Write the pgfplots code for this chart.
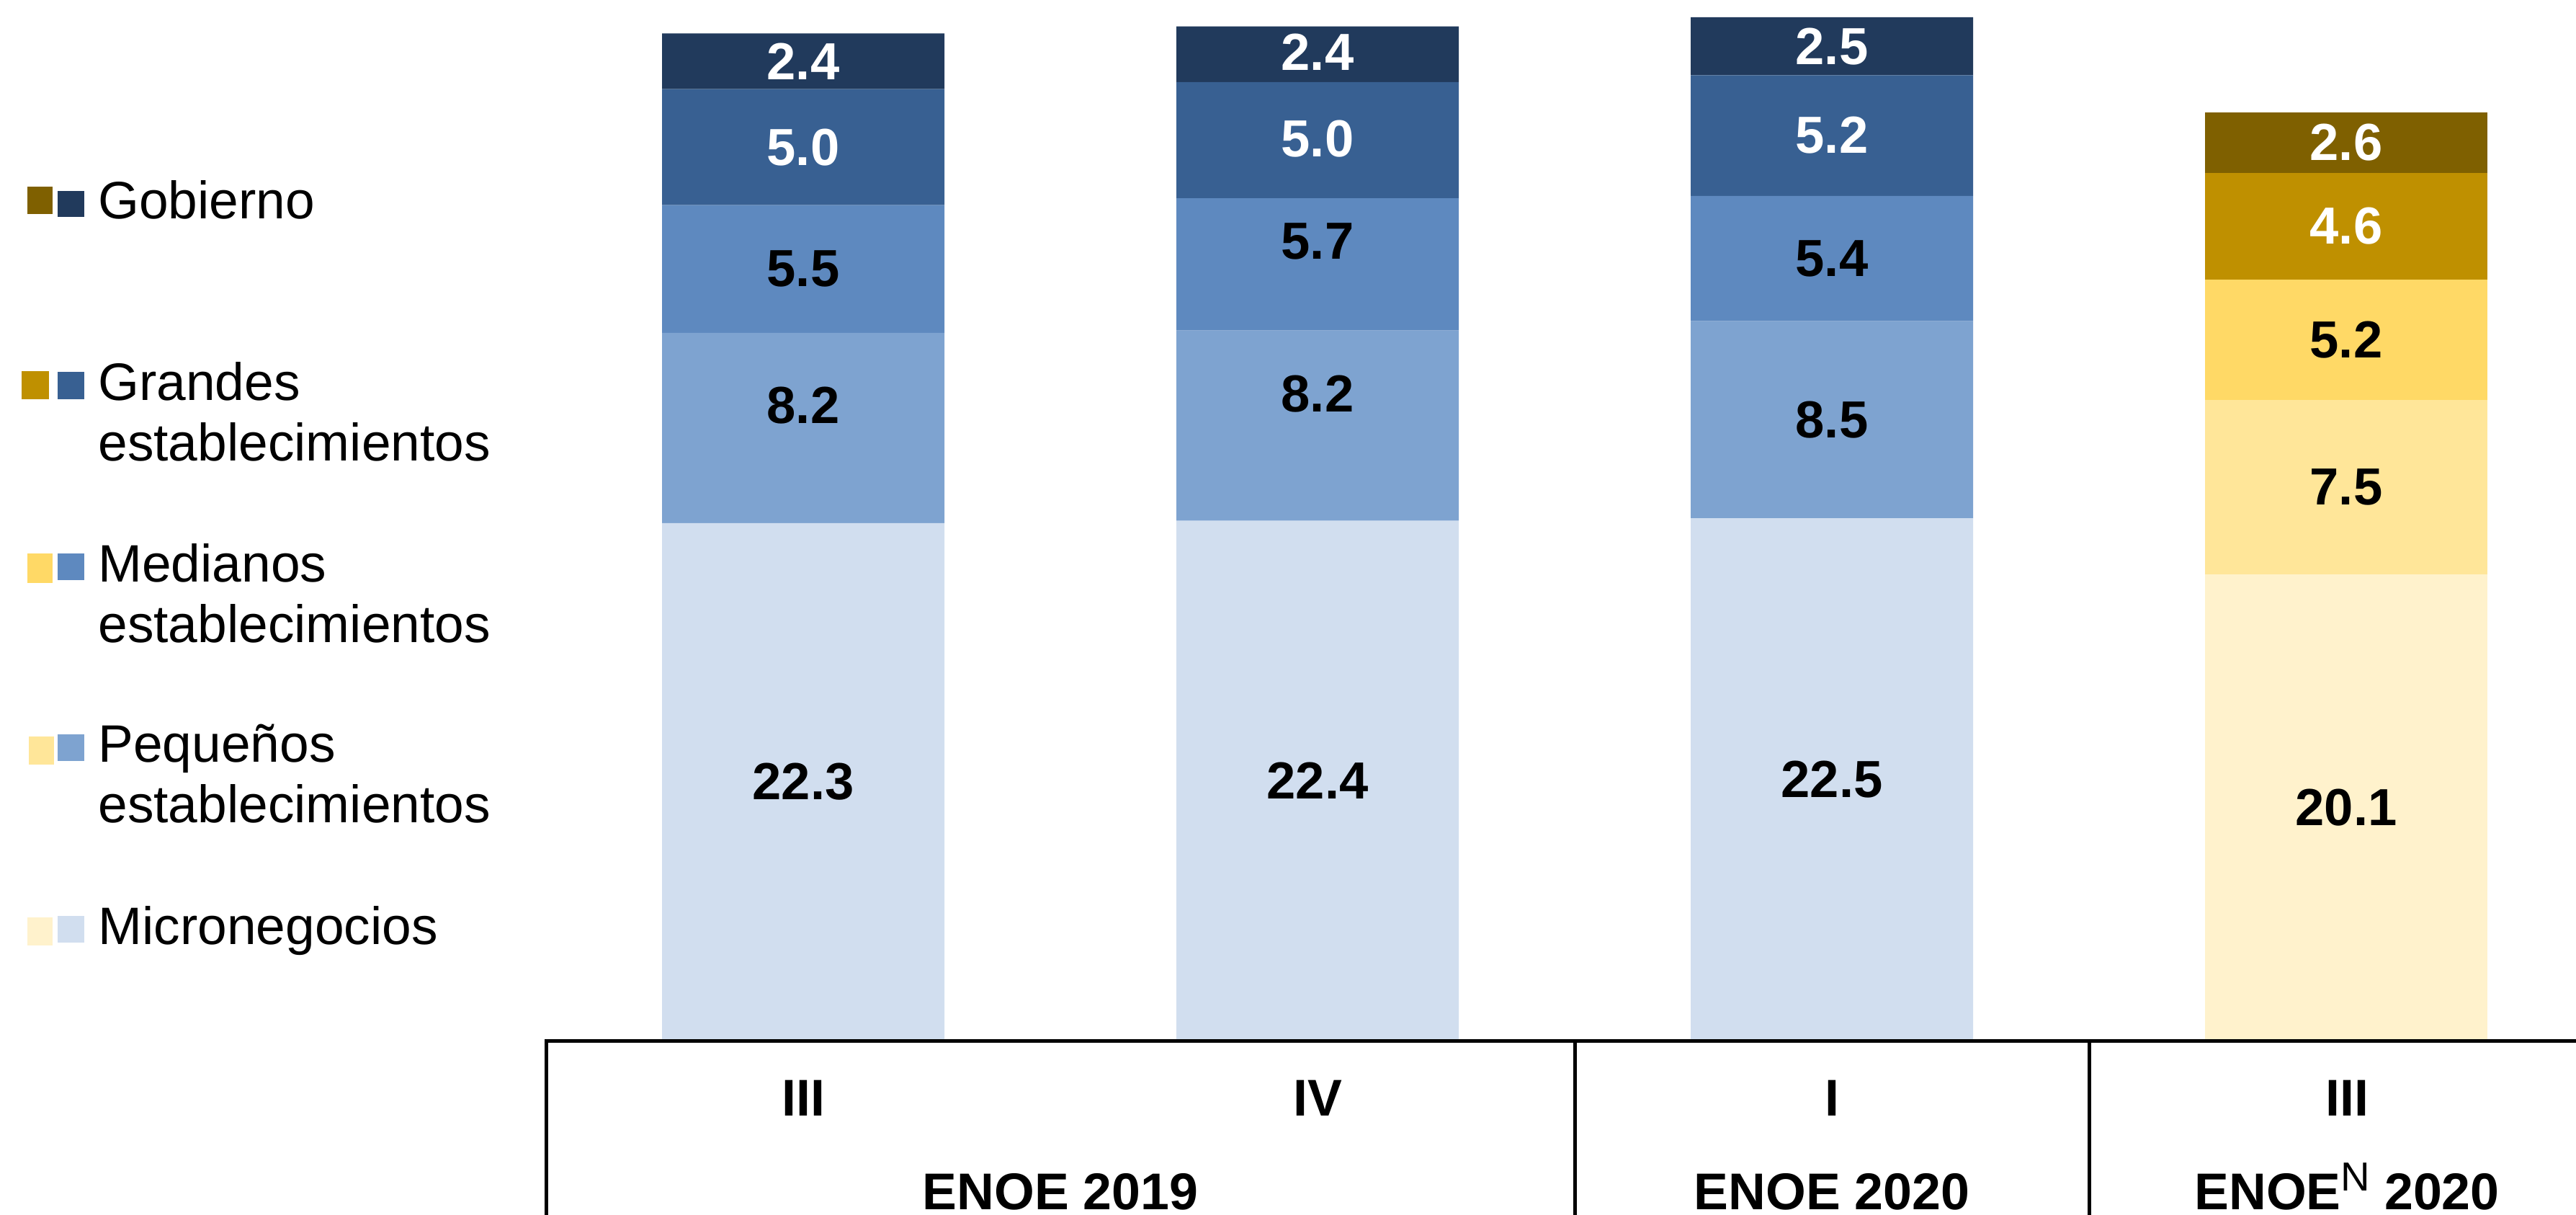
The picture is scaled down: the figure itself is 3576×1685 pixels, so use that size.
\documentclass[border=0pt]{standalone}
\usepackage{fontspec}
\setmainfont{Liberation Sans}
\usepackage{pgfplots}
\usepackage{pgfplotstable}
\pgfplotsset{compat=1.18}

\definecolor{bGob}{HTML}{213A5C}
\definecolor{bGra}{HTML}{386092}
\definecolor{bMed}{HTML}{5E89BF}
\definecolor{bPeq}{HTML}{7EA3D0}
\definecolor{bMic}{HTML}{D1DEEF}
\definecolor{gGob}{HTML}{7F6000}
\definecolor{gGra}{HTML}{BF9000}
\definecolor{gMed}{HTML}{FFD966}
\definecolor{gPeq}{HTML}{FFE699}
\definecolor{gMic}{HTML}{FFF2CC}

\pgfplotstableread{
x micro peq med gran gob
0 22.3 8.2 5.5 5.0 2.4
1 22.4 8.2 5.7 5.0 2.4
2 22.5 8.5 5.4 5.2 2.5
3 0 0 0 0 0
}\bluedata
\pgfplotstableread{
x micro peq med gran gob
0 0 0 0 0 0
1 0 0 0 0 0
2 0 0 0 0 0
3 20.1 7.5 5.2 4.6 2.6
}\golddata
\pgfplotstableread{
x y lab
0 42.2 2.4
0 38.5 5.0
1 42.6 2.4
1 38.85 5.0
2 42.85 2.5
2 39.0 5.2
3 38.7 2.6
3 35.1 4.6
}\whitelabs
\pgfplotstableread{
x y lab
0 33.25 5.5
0 27.36 8.2
0 11.15 22.3
1 34.44 5.7
1 27.86 8.2
1 11.2 22.4
2 33.7 5.4
2 26.75 8.5
2 11.25 22.5
3 30.2 5.2
3 23.85 7.5
3 10.05 20.1
}\blacklabs

\pgfplotsset{
  base/.style={
    scale only axis, width=140.9mm, height=72.2mm,
    at={(37.9mm,-72.2mm)}, anchor=south west,
    xmin=-0.5, xmax=3.447, ymin=0, ymax=44.84,
    hide axis, clip=false,
  },
}

\begin{document}
\fontsize{10.2}{12}\selectfont
\begin{tikzpicture}[x=0.05mm,y=-0.05mm]
\useasboundingbox (0,0) rectangle (3576,1685);

% bars
\begin{axis}[base, ybar stacked, bar width=0.549]
\addplot[fill=bMic, draw=none] table[x=x,y=micro] {\bluedata};
\addplot[fill=gMic, draw=none] table[x=x,y=micro] {\golddata};
\addplot[fill=bPeq, draw=none] table[x=x,y=peq] {\bluedata};
\addplot[fill=gPeq, draw=none] table[x=x,y=peq] {\golddata};
\addplot[fill=bMed, draw=none] table[x=x,y=med] {\bluedata};
\addplot[fill=gMed, draw=none] table[x=x,y=med] {\golddata};
\addplot[fill=bGra, draw=none] table[x=x,y=gran] {\bluedata};
\addplot[fill=gGra, draw=none] table[x=x,y=gran] {\golddata};
\addplot[fill=bGob, draw=none] table[x=x,y=gob] {\bluedata};
\addplot[fill=gGob, draw=none] table[x=x,y=gob] {\golddata};
\end{axis}

% labels and table lines
\begin{axis}[base]
\addplot[draw=none, mark=none, nodes near coords, point meta=explicit symbolic,
  every node near coord/.append style={anchor=center, inner sep=0pt, text=white,
  font=\fontsize{10.3}{12}\selectfont\bfseries}]
  table[x=x, y=y, meta=lab] {\whitelabs};
\addplot[draw=none, mark=none, nodes near coords, point meta=explicit symbolic,
  every node near coord/.append style={anchor=center, inner sep=0pt, text=black,
  font=\fontsize{10.3}{12}\selectfont\bfseries}]
  table[x=x, y=y, meta=lab] {\blacklabs};
\draw[line width=0.25mm, line join=miter] (axis cs:-0.5,-8) -- (axis cs:-0.5,0) -- (axis cs:3.7,0);
\draw[line width=0.25mm] (axis cs:1.5,0) -- (axis cs:1.5,-8);
\draw[line width=0.25mm] (axis cs:2.5,0) -- (axis cs:2.5,-8);
\end{axis}

% table text
\begin{scope}[every node/.style={inner sep=0pt, font=\fontsize{10.2}{12}\selectfont\bfseries}]
\node[anchor=base] at (1115,1548) {III};
\node[anchor=base] at (1829,1548) {IV};
\node[anchor=base] at (2543,1548) {I};
\node[anchor=base] at (3258,1548) {III};
\node[anchor=base] at (1472,1678) {ENOE 2019};
\node[anchor=base] at (2543,1678) {ENOE 2020};
\node[anchor=base] at (3258,1678) {ENOE\raisebox{1.3mm}{\fontsize{8}{8}\selectfont\mdseries N} 2020};
\end{scope}

% legend
\begin{scope}[every node/.style={inner sep=0pt, anchor=base west, font=\fontsize{10.4}{12}\selectfont}]
\fill[gGob] (38,259) rectangle (73,297);
\fill[bGob] (80,265) rectangle (117,301);
\node at (135,303) {Gobierno};
\fill[gGra] (30,515) rectangle (68,554);
\fill[bGra] (80,516) rectangle (117,554);
\node at (135,555) {Grandes};
\node at (135,639) {establecimientos};
\fill[gMed] (38,768) rectangle (73,809);
\fill[bMed] (80,768) rectangle (117,805);
\node at (135,807) {Medianos};
\node at (135,891) {establecimientos};
\fill[gPeq] (40,1022) rectangle (75,1061);
\fill[bPeq] (80,1019) rectangle (117,1056);
\node at (135,1057) {Pequeños};
\node at (135,1141) {establecimientos};
\fill[gMic] (38,1273) rectangle (73,1312);
\fill[bMic] (80,1271) rectangle (117,1308);
\node at (135,1310) {Micronegocios};
\end{scope}
\end{tikzpicture}
\end{document}
